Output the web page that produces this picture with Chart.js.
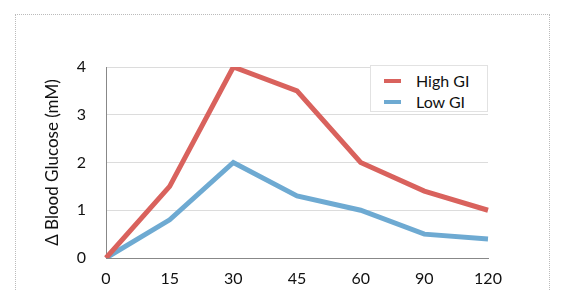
<!DOCTYPE html>
<html lang="en">
<head>
  <meta charset="UTF-8" />
  <title>Blood Glucose Response</title>
  <script src="https://cdn.jsdelivr.net/npm/chart.js"></script>
  <style>
    body {
      margin: 0;
      background: #fff;
      font-family: Lato, "Open Sans", sans-serif;
    }

    .frame {
      position: absolute;
      left: 15px;
      top: 14px;
      width: 533px;
      height: 320px;
      border: 1px dotted #bbb;
    }

    .wrap {
      position: absolute;
      left: 0;
      top: 0;
      width: 565px;
      height: 291px;
    }

    /* legend box inside the plot */
    .legend {
      position: absolute;
      left: 370px;
      top: 65px;
      width: 116px;
      height: 45px;
      border: 1px solid #e2e2e2;
      background: #fff;
      font-size: 16px;
      color: #111;
    }

    .legend div {
      position: absolute;
      left: 45px;
      line-height: 18px;
    }

    .legend span {
      position: absolute;
      left: -32px;
      top: 7px;
      width: 17px;
      height: 4px;
    }
  </style>
</head>
<body>
  <div class="frame"></div>
  <div class="wrap">
    <canvas id="chart" width="565" height="291"></canvas>
  </div>
  <div class="legend">
    <div style="top:6px"><span style="background:#d9625d"></span>High GI</div>
    <div style="top:27px"><span style="background:#6eaad2"></span>Low GI</div>
  </div>

  <script>
    const minutes = ['0', '15', '30', '45', '60', '90', '120'];
    const highGI = [0, 1.5, 4.0, 3.5, 2.0, 1.4, 1.0];
    const lowGI = [0, 0.8, 2.0, 1.3, 1.0, 0.5, 0.4];
    const yTicks = [0, 1, 2, 3, 4];

    const ctx = document.getElementById('chart').getContext('2d');

    new Chart(ctx, {
      type: 'line',
      data: {
        labels: minutes,
        datasets: [
          {
            label: 'High GI',
            data: highGI,
            borderColor: '#d9625d',
            borderWidth: 5,
            pointRadius: 0,
            tension: 0
          },
          {
            label: 'Low GI',
            data: lowGI,
            borderColor: '#6eaad2',
            borderWidth: 5,
            pointRadius: 0,
            tension: 0
          }
        ]
      },
      options: {
        responsive: false,
        animation: false,
        layout: {
          padding: { left: 42, right: 77, top: 67, bottom: 0 }
        },
        plugins: {
          legend: { display: false },
          tooltip: { enabled: false }
        },
        scales: {
          x: {
            offset: false,
            grid: { display: false, drawTicks: false },
            border: { color: '#888', width: 1 },
            ticks: {
              padding: 11,
              color: '#111',
              font: { family: 'Lato', size: 16 }
            },
            afterFit(scale) { scale.height = 33; }
          },
          y: {
            min: 0,
            max: 4,
            afterBuildTicks(scale) {
              scale.ticks = yTicks.map(v => ({ value: v }));
            },
            grid: { color: '#dcdcdc', drawTicks: false },
            border: { color: '#888', width: 1 },
            ticks: {
              padding: 20,
              color: '#111',
              font: { family: 'Lato', size: 16 }
            },
            title: {
              display: true,
              text: 'Δ Blood Glucose (mM)',
              color: '#111',
              padding: 0,
              font: { family: 'Lato', size: 17 }
            },
            afterFit(scale) { scale.width = 64; }
          }
        }
      }
    });
  </script>
</body>
</html>
